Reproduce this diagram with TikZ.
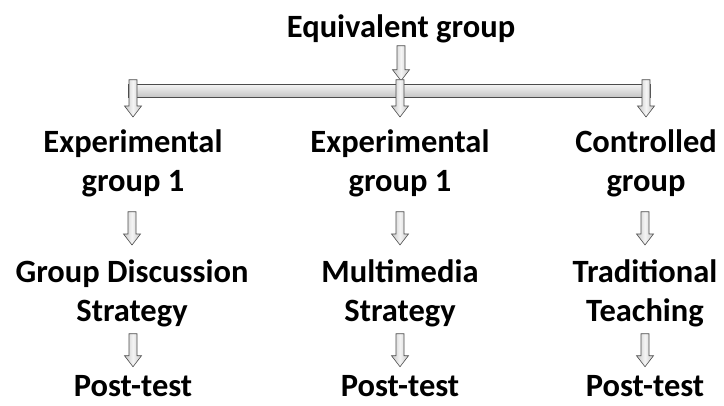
\documentclass[tikz,border=0pt]{standalone}
\usepackage{fontspec}
\setmainfont{Carlito}
\usetikzlibrary{calc}

\begin{document}
\begin{tikzpicture}[x=1pt,y=-1pt,
    t/.style={font=\bfseries\fontsize{32.5}{39}\selectfont,align=center,inner sep=0pt,anchor=base},
    blk/.style={draw=black!70,line width=0.6pt,left color=gray!45,right color=gray!45,middle color=gray!8},
    bar/.style={draw=black!70,line width=0.6pt,top color=gray!8,bottom color=gray!45,minimum width=522pt,minimum height=13pt,inner sep=0pt},
    barr/.style={to path={let \p1=(\tikztostart), \p2=(\tikztotarget) in
      (\x2-4pt,\y1) -- (\x2-4pt,\y2+11pt) -- (\x2-8.5pt,\y2+11pt) -- (\x2,\y2)
      -- (\x2+8.5pt,\y2+11pt) -- (\x2+4pt,\y2+11pt) -- (\x2+4pt,\y1) -- cycle}}
  ]
    \useasboundingbox (0,0) rectangle (724,405);
    \node[t] (eq) at (401,37) {Equivalent group};
    \node[bar] (hbar) at (389,90.5) {};
    \node[t] (e1) at (133,191) {Experimental\\group 1};
    \node[t] (e2) at (400,191) {Experimental\\group 1};
    \node[t] (c3) at (646,191) {Controlled\\group};
    \node[t] (g1) at (132,321) {Group Discussion\\Strategy};
    \node[t] (m2) at (400,321) {Multimedia\\Strategy};
    \node[t] (r3) at (645,321) {Traditional\\Teaching};
    \node[t] (p1) at (133,396) {Post-test};
    \node[t] (p2) at (400,396) {Post-test};
    \node[t] (p3) at (645,396) {Post-test};
    % top arrow into the bar
    \draw[blk,barr] ([yshift=-3pt]eq.south) to ([yshift=3pt]hbar.north -| eq);
    % bar down to the groups
    \draw[blk,barr] ([yshift=4pt]hbar.north -| e1) to ([yshift=12pt]e1.north);
    \draw[blk,barr] ([yshift=4pt]hbar.north -| e2) to ([yshift=12pt]e2.north);
    \draw[blk,barr] ([yshift=4pt]hbar.north -| c3) to ([yshift=12pt]c3.north);
    % groups to strategies
    \draw[blk,barr] ([yshift=-15pt]e1.south) to ([yshift=14pt]g1.north);
    \draw[blk,barr] ([yshift=-15pt]e2.south) to ([yshift=14pt]m2.north);
    \draw[blk,barr] ([yshift=-15pt]c3.south) to ([yshift=14pt]r3.north);
    % strategies to post-test
    \draw[blk,barr] ([yshift=-7pt]g1.south) to ([yshift=8pt]p1.north);
    \draw[blk,barr] ([yshift=-7pt]m2.south) to ([yshift=8pt]p2.north);
    \draw[blk,barr] ([yshift=-7pt]r3.south) to ([yshift=8pt]p3.north);
\end{tikzpicture}
\end{document}
